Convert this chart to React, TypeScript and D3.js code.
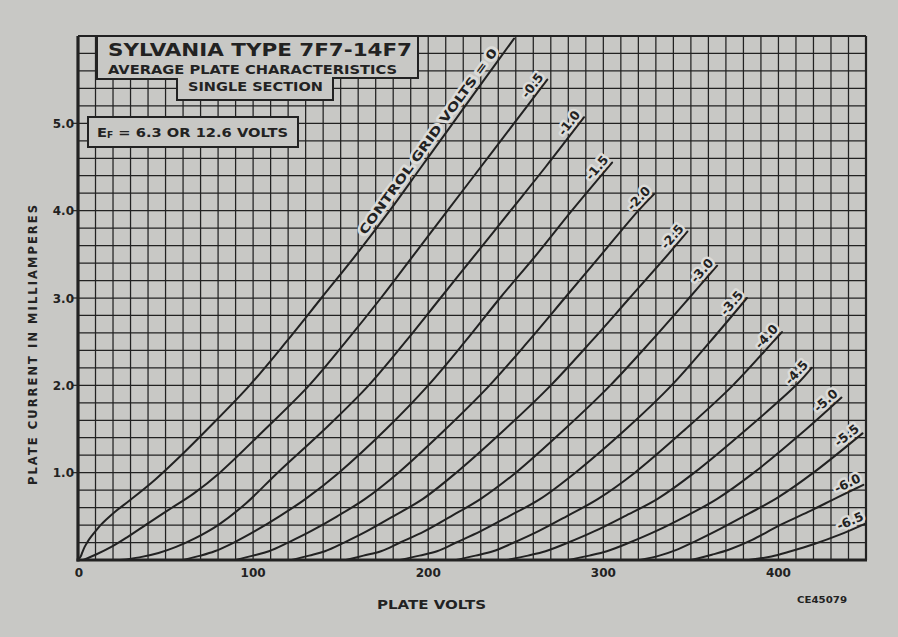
import React from 'react';
import * as d3 from 'd3';

const W = 898;
const H = 637;

// axis ticks
const xTickValues = [0, 100, 200, 300, 400];
const xTickLabels = ['0', '100', '200', '300', '400'];
const yTickValues = [1, 2, 3, 4, 5];
const yTickLabels = ['1.0', '2.0', '3.0', '4.0', '5.0'];

// plate characteristic curves: [plate volts, plate current mA]
const curve0 = [[0, 0], [1.5, 0.04], [2.5, 0.09], [3.8, 0.15], [5.5, 0.21], [7.6, 0.27], [10, 0.33], [12.5, 0.39], [16, 0.46], [21, 0.55], [30, 0.69], [44, 0.92], [60, 1.22], [74, 1.5], [98, 2.0], [119, 2.5], [139, 3.0], [159, 3.5], [178, 4.0], [196, 4.5], [214, 5.0], [232, 5.5], [249, 5.97]];
const curveM05 = [[3, 0], [10, 0.06], [19, 0.15], [28, 0.26], [40, 0.42], [53, 0.59], [66, 0.76], [81, 1.0], [107, 1.5], [132, 2.0], [153, 2.5], [173, 3.0], [192, 3.5], [211, 4.0], [230, 4.5], [249, 5.0], [268, 5.5]];
const curveM10 = [[24, 0], [35, 0.03], [46, 0.08], [56, 0.15], [67, 0.25], [80, 0.4], [96, 0.65], [114, 1.0], [141, 1.5], [166, 2.0], [187, 2.5], [207, 3.0], [227, 3.5], [247, 4.0], [267, 4.5], [289, 5.07]];
const curveM15 = [[60, 0], [70, 0.05], [78, 0.1], [89, 0.2], [101, 0.33], [115, 0.5], [130, 0.7], [149, 1.0], [176, 1.5], [200, 2.0], [221, 2.5], [241, 3.0], [262, 3.5], [282, 4.0], [305, 4.55]];
const curveM20 = [[90, 0], [100, 0.05], [109, 0.1], [120, 0.2], [133, 0.33], [148, 0.5], [164, 0.7], [183, 1.0], [210, 1.5], [235, 2.0], [257, 2.5], [278, 3.0], [299, 3.5], [320, 4.0], [329, 4.19]];
const curveM25 = [[122, 0], [132, 0.05], [141, 0.1], [152, 0.2], [165, 0.33], [180, 0.5], [197, 0.7], [216, 1.0], [244, 1.5], [270, 2.0], [293, 2.5], [315, 3.0], [337, 3.5], [348, 3.76]];
const curveM30 = [[153, 0], [163, 0.05], [173, 0.1], [184, 0.2], [198, 0.33], [213, 0.5], [230, 0.7], [250, 1.0], [278, 1.5], [304, 2.0], [327, 2.5], [349, 3.0], [365, 3.37]];
const curveM35 = [[184, 0], [195, 0.05], [205, 0.1], [216, 0.2], [230, 0.33], [246, 0.5], [264, 0.7], [284, 1.0], [313, 1.5], [339, 2.0], [361, 2.5], [382, 3.0]];
const curveM40 = [[216, 0], [227, 0.05], [237, 0.1], [249, 0.2], [263, 0.33], [279, 0.5], [297, 0.7], [318, 1.0], [347, 1.5], [374, 2.0], [397, 2.5], [402, 2.61]];
const curveM45 = [[245, 0], [257, 0.05], [267, 0.1], [280, 0.2], [295, 0.33], [312, 0.5], [331, 0.7], [352, 1.0], [382, 1.5], [410, 2.0], [419, 2.2]];
const curveM50 = [[280, 0], [292, 0.05], [302, 0.1], [315, 0.2], [330, 0.33], [347, 0.5], [365, 0.7], [386, 1.0], [416, 1.5], [436, 1.86]];
const curveM55 = [[321, 0], [332, 0.05], [341, 0.11], [353, 0.22], [367, 0.36], [383, 0.53], [400, 0.72], [420, 1.0], [448, 1.45]];
const curveM60 = [[350, 0], [362, 0.06], [372, 0.12], [385, 0.23], [400, 0.39], [417, 0.55], [434, 0.72], [448.5, 0.86]];
const curveM65 = [[383, 0], [396, 0.04], [407, 0.1], [420, 0.18], [435, 0.29], [450, 0.42]];

const gridVoltLabels = ['0', '-0.5', '-1.0', '-1.5', '-2.0', '-2.5', '-3.0', '-3.5', '-4.0', '-4.5', '-5.0', '-5.5', '-6.0', '-6.5'];
const curveData = [curve0, curveM05, curveM10, curveM15, curveM20, curveM25, curveM30, curveM35, curveM40, curveM45, curveM50, curveM55, curveM60, curveM65];

const PAPER = '#c8c8c5';
const HALO = '#dcdcd9';
const INK = '#222222';
const FONT = '"DejaVu Sans", Verdana, sans-serif';

export default function App() {
  const x = d3.scaleLinear().domain([0, 450]).range([78, 866]);
  const y = d3.scaleLinear().domain([0, 6]).range([560, 36]);

  const vGrid = d3.range(10, 450, 10);
  const hGrid = d3.range(1, 30).map((i) => i * 0.2);

  const line = d3
    .line<number[]>()
    .x((d) => x(d[0]))
    .y((d) => y(d[1]))
    .curve(d3.curveCatmullRom.alpha(0.5));

  const labels = curveData.map((pts, i) => {
    const a = pts[pts.length - 2];
    const b = pts[pts.length - 1];
    const ang = (Math.atan2(y(b[1]) - y(a[1]), x(b[0]) - x(a[0])) * 180) / Math.PI;
    return { x: x(b[0]), y: y(b[1]), ang, text: gridVoltLabels[i] };
  });

  // Control grid volts label along the zero curve
  const c0a = curve0[curve0.length - 4];
  const c0b = curve0[curve0.length - 1];
  const c0ang = (Math.atan2(y(c0b[1]) - y(c0a[1]), x(c0b[0]) - x(c0a[0])) * 180) / Math.PI;
  const c0anchor = [x(242), y(5.78)];

  const labelStyle = {
    fontSize: 12.5,
    fontWeight: 'bold' as const,
    fill: INK,
    stroke: HALO,
    strokeWidth: 5,
    strokeLinejoin: 'round' as const,
    paintOrder: 'stroke',
  };

  return (
    <div style={{ position: 'fixed', left: 0, top: 0, width: W, height: H }}>
      <svg width={W} height={H} style={{ display: 'block', background: PAPER }} fontFamily={FONT}>
        <rect x={0} y={0} width={W} height={H} fill={PAPER} />
        {/* grid */}
        <g stroke={INK} strokeWidth={1.25}>
          {vGrid.map((v) => (
            <line key={'v' + v} x1={x(v)} x2={x(v)} y1={y(0)} y2={y(6)} />
          ))}
          {hGrid.map((v) => (
            <line key={'h' + v} x1={x(0)} x2={x(450)} y1={y(v)} y2={y(v)} />
          ))}
        </g>
        {/* frame */}
        <line x1={x(0)} x2={x(450)} y1={y(6)} y2={y(6)} stroke={INK} strokeWidth={2} />
        <line x1={x(450)} x2={x(450)} y1={y(6)} y2={y(0)} stroke={INK} strokeWidth={2.2} />
        <line x1={x(0)} x2={x(0)} y1={y(6)} y2={y(0) + 1.5} stroke={INK} strokeWidth={3.2} />
        <line x1={x(0) - 1.5} x2={x(450) + 1} y1={y(0)} y2={y(0)} stroke={INK} strokeWidth={3.2} />
        {/* y ticks */}
        {yTickValues.map((v, i) => (
          <g key={'yt' + v}>
            <line x1={x(0) - 5} x2={x(0)} y1={y(v)} y2={y(v)} stroke={INK} strokeWidth={1.2} />
            <text x={74} y={y(v)} dy={4.5} textAnchor="end" fontSize={12} fontWeight="bold" fill={INK}>
              {yTickLabels[i]}
            </text>
          </g>
        ))}
        {/* x tick labels */}
        {xTickValues.map((v, i) => (
          <text key={'xt' + v} x={x(v) + (v === 0 ? 1 : 0)} y={577} textAnchor="middle" fontSize={12} fontWeight="bold" fill={INK}>
            {xTickLabels[i]}
          </text>
        ))}
        {/* axis titles */}
        <text x={377} y={609} fontSize={11.5} fontWeight="bold" fill={INK} textLength={109} lengthAdjust="spacingAndGlyphs">
          PLATE VOLTS
        </text>
        <text transform="translate(37,485) rotate(-90)" fontSize={11.5} fontWeight="bold" fill={INK} textLength={280} lengthAdjust="spacing">
          PLATE CURRENT IN MILLIAMPERES
        </text>
        <text x={797} y={603} fontSize={8} fontWeight="bold" fill={INK} textLength={50} lengthAdjust="spacingAndGlyphs">
          CE45079
        </text>
        {/* curves */}
        <g fill="none" stroke={INK} strokeWidth={2} strokeLinecap="round">
          {curveData.map((pts, i) => (
            <path key={'c' + i} d={line(pts as number[][]) || ''} />
          ))}
        </g>
        {/* curve labels */}
        {labels.slice(1).map((l) => (
          <text key={'l' + l.text} transform={`translate(${l.x},${l.y}) rotate(${l.ang})`} dy={-4} textAnchor="end" {...labelStyle}>
            {l.text}
          </text>
        ))}
        <text
          transform={`translate(${c0anchor[0]},${c0anchor[1]}) rotate(${c0ang})`}
          dy={-5}
          textAnchor="end"
          {...labelStyle}
          fontSize={12}
          textLength={226}
          lengthAdjust="spacingAndGlyphs"
        >
          CONTROL GRID VOLTS = 0
        </text>
        {/* title box */}
        <path d="M97,36 V79 H177 V100 H333 V78 H418 V36 Z" fill={PAPER} stroke={INK} strokeWidth={2} />
        <text x={108} y={56} fontSize={17} fontWeight="bold" fill={INK} textLength={304} lengthAdjust="spacingAndGlyphs">
          SYLVANIA TYPE  7F7-14F7
        </text>
        <text x={108} y={74} fontSize={12.5} fontWeight="bold" fill={INK} textLength={289} lengthAdjust="spacingAndGlyphs">
          AVERAGE PLATE CHARACTERISTICS
        </text>
        <text x={188} y={91} fontSize={12.5} fontWeight="bold" fill={INK} textLength={135} lengthAdjust="spacingAndGlyphs">
          SINGLE SECTION
        </text>
        {/* heater box */}
        <rect x={88} y={117} width={210} height={30} fill={PAPER} stroke={INK} strokeWidth={2} />
        <text x={97} y={137} fontSize={13} fontWeight="bold" fill={INK} textLength={191} lengthAdjust="spacingAndGlyphs">
          E<tspan fontSize={8} dy={1}>F</tspan>
          <tspan dy={-1}> = 6.3 OR 12.6 VOLTS</tspan>
        </text>
      </svg>
    </div>
  );
}
